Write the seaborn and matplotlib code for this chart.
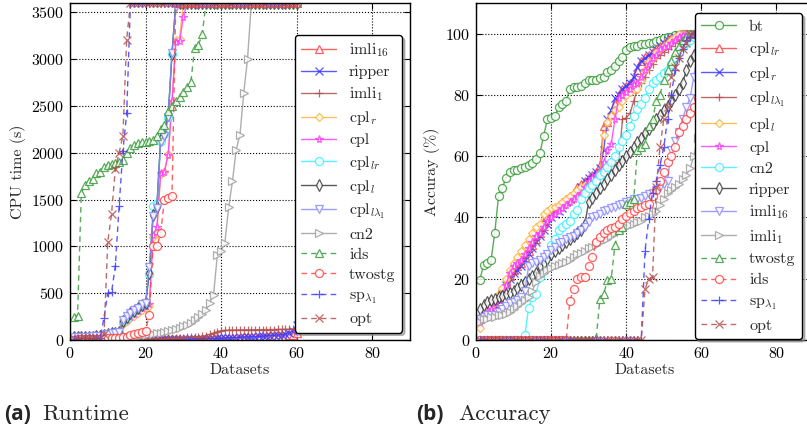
import numpy as np
import matplotlib.pyplot as plt
import seaborn as sns

TIMEOUT = 3600

# dataset index (cactus-style x axis)
datasets = np.arange(1, 61)

# ---- runtime (s), sorted per method ----
rt_imli16 = [1, 1, 1, 2, 2, 2, 2, 3, 3, 3,
             3, 4, 4, 4, 5, 5, 5, 6, 6, 6,
             7, 7, 8, 8, 9, 9, 10, 10, 11, 12,
             12, 13, 14, 15, 16, 17, 18, 19, 20, 21,
             22, 23, 24, 25, 26, 27, 28, 29, 30, 32,
             34, 36, 38, 40, 42, 44, 47, 50, 55, 70]
rt_ripper = [1, 1, 1, 1, 1, 2, 2, 2, 2, 2,
             2, 3, 3, 3, 3, 4, 4, 4, 5, 5,
             5, 6, 6, 6, 7, 7, 8, 8, 9, 9,
             10, 10, 11, 12, 13, 14, 15, 16, 17, 18,
             20, 22, 24, 26, 28, 30, 32, 34, 36, 38,
             41, 44, 47, 50, 54, 58, 64, 75, 100, 160]
rt_imli1 = [2, 2, 3, 3, 3, 4, 4, 4, 5, 5,
            5, 6, 6, 7, 7, 8, 8, 9, 10, 11,
            12, 13, 14, 15, 16, 18, 20, 22, 24, 26,
            28, 30, 33, 36, 40, 48, 60, 75, 90, 100,
            103, 105, 106, 107, 108, 108, 109, 109, 110, 110,
            111, 111, 112, 112, 113, 113, 114, 115, 118, 125]
rt_cpl_r = [25, 27, 28, 30, 31, 33, 35, 38, 45, 55,
            60, 65, 70, 170, 200, 230, 260, 290, 320, 350,
            360, 1100, 1140, 1770, 1800, 1990, 2520, 3200, 3220] + [TIMEOUT] * 31
rt_cpl = [24, 26, 28, 30, 32, 34, 36, 40, 48, 58,
          62, 68, 74, 180, 215, 250, 280, 310, 340, 365,
          380, 1120, 1210, 1785, 1800, 1980, 2550, 3180, 3190, 3450] + [TIMEOUT] * 30
rt_cpl_lr = [26, 28, 30, 32, 34, 36, 38, 42, 52, 64,
             70, 76, 84, 200, 240, 280, 310, 340, 370, 390,
             700, 1430, 1450, 2130, 2200, 2380, 3050] + [TIMEOUT] * 33
rt_cpl_l = [27, 29, 31, 33, 35, 37, 40, 44, 55, 66,
            72, 78, 86, 205, 250, 285, 315, 345, 375, 395,
            720, 1330, 1420, 2150, 2200, 2400, 3060] + [TIMEOUT] * 33
rt_cpl_llam = [28, 30, 32, 34, 36, 38, 41, 45, 58, 68,
               74, 80, 90, 214, 260, 290, 320, 345, 380, 400,
               780, 1320, 1410, 2120, 2175, 2380, 3070, 3560] + [TIMEOUT] * 32
rt_cn2 = [3, 3, 4, 4, 5, 5, 6, 6, 7, 7,
          8, 8, 9, 10, 11, 12, 30, 40, 50, 55,
          60, 65, 72, 80, 86, 95, 105, 115, 130, 145,
          160, 180, 210, 246, 280, 320, 400, 480, 910, 950,
          1040, 1420, 1695, 2035, 2195, 2640, 3005] + [TIMEOUT] * 13
rt_ids = [250, 260, 1570, 1660, 1700, 1720, 1780, 1800, 1850, 1870,
          1880, 1890, 1900, 1920, 2000, 2050, 2080, 2100, 2110, 2120,
          2130, 2140, 2180, 2250, 2300, 2450, 2500, 2550, 2600, 2650,
          2700, 2760, 3120, 3150, 3270] + [TIMEOUT] * 25
rt_twostg = [5, 6, 7, 8, 9, 10, 12, 14, 16, 18,
             20, 22, 25, 28, 32, 53, 60, 75, 86, 100,
             268, 1000, 1000, 1145, 1500, 1520, 1535] + [TIMEOUT] * 33
rt_sp = [15, 16, 17, 18, 19, 20, 22, 25, 240, 500,
         510, 790, 1430, 2020, 2420] + [TIMEOUT] * 45
rt_opt = [14, 15, 16, 17, 18, 19, 20, 22, 60, 1050,
          1350, 1830, 2000, 2180, 3210] + [TIMEOUT] * 45

# ---- accuracy (%), sorted per method ----
acc_bt = [19.5, 24.5, 25, 26, 35, 47, 49.5, 53, 55, 55.5,
          55.5, 56, 56.5, 57, 57.7, 59, 61, 66.5, 72, 72.5,
          73, 76, 77, 78, 82, 82.5, 82.5, 83, 84, 85,
          85, 85, 85.5, 86, 87.5, 88, 89.5, 91, 92.5, 94.6,
          95.5, 96, 96, 96.5, 96.5, 97, 97, 97.5, 98, 98.5,
          99, 99, 99.5, 99.5, 100, 100, 100, 100, 100, 100]
acc_cpl_lr = [7, 8, 9, 10, 12, 14, 16, 19, 21, 23,
              24, 25, 27, 29, 31, 33, 35, 39, 40, 42,
              43, 44, 45, 46, 47, 48, 50, 51, 52, 53,
              54, 55, 57, 70, 71, 74, 77, 80, 82, 83,
              84, 85, 88, 91, 92.5, 93, 94, 95, 96, 97,
              98, 98.5, 99, 99.5, 100, 100, 100, 100, 100, 100]
acc_cpl_r = [7, 8, 9, 10, 11, 13, 15, 18, 20, 22,
             23, 24, 26, 28, 30, 32, 34, 36, 38, 40,
             41, 42, 43, 45, 46, 47, 48, 50, 52, 53,
             54, 55, 56, 62, 72, 75, 79, 80, 82, 83,
             84, 86, 89, 91, 92, 93, 94, 95, 96, 97,
             98, 98.5, 99, 99.5, 100, 100, 100, 100, 100, 100]
acc_cpl_llam = [8, 9, 10, 11, 12, 14, 16, 18, 20, 22,
                24, 25, 27, 29, 31, 33, 35, 36, 38, 40,
                42, 43, 44, 44, 45, 46, 47, 48, 50, 51,
                52, 53, 54, 55, 56, 57, 57.5, 58, 72, 72.5,
                74, 78, 82, 84, 86, 88, 90, 92, 93, 94,
                95, 96, 97, 98, 99, 99.5, 100, 100, 100, 100]
acc_cpl_l = [4, 8, 10, 11, 13, 15, 17, 20, 23, 25,
             27, 29, 31, 33, 35, 37, 38, 41, 42, 43,
             43.5, 44, 45, 46, 47, 48, 49, 50, 50.5, 50.6,
             51, 52, 55, 67, 71, 73, 75, 76, 78, 80,
             81, 82, 82, 85, 88, 91, 92, 94, 95, 96,
             97, 98, 99, 100, 100, 100, 100, 100, 100, 100]
acc_cpl = [6, 8, 9, 10, 12, 13, 15, 18, 22, 24,
           25, 26, 28, 30, 32, 34, 35, 37, 39, 40,
           41, 42, 43, 44, 45, 46, 47, 48, 50, 52,
           53, 54, 55, 58, 62, 64, 72, 79, 80, 81,
           82, 83.5, 84, 86, 88, 90, 92, 93, 95, 95.6,
           96, 97, 98, 99, 99.5, 100, 100, 100, 100, 100]
acc_cn2 = [0] * 12 + [1.5, 10.4, 14, 15, 20.6, 25, 28, 31, 33, 36,
                      37, 38, 39, 41, 42.4, 46, 48, 49.5, 50.6, 52,
                      54, 55, 56.5, 58, 60, 63, 65, 67, 70, 73,
                      75.5, 77, 79, 82, 84, 85, 86, 87, 88, 90,
                      92, 94, 96, 97, 98, 99, 100, 100]
acc_ripper = [10, 11.5, 12.5, 13, 13.5, 14, 14.5, 15, 15.5, 16,
              17, 18, 19, 20, 21, 22, 24, 25, 26.5, 28,
              29, 30, 31, 32, 33, 34, 35, 36, 38, 45,
              46.5, 48, 49.5, 51, 52.5, 54, 55.5, 57, 58.5, 60,
              61.5, 63, 64.5, 66, 67.5, 69, 70.5, 72, 73.5, 75,
              76.5, 78, 80, 82, 84, 88, 91, 93, 96, 99]
acc_imli16 = [7, 7.5, 8, 8, 8, 9, 10, 11, 12, 12.5,
              13, 14, 16, 24, 25, 25.5, 26, 27, 28, 29.5,
              30.5, 31.5, 32, 33, 33.5, 34, 35, 36, 37, 38.5,
              40, 40.5, 41, 42, 42.5, 43, 43.5, 44, 44.5, 45,
              45.5, 46, 46, 46.5, 47, 47.5, 48, 49, 50, 51,
              52, 62, 65, 68, 72, 76, 79, 86, 93, 94]
acc_imli1 = [6, 7, 7, 7.5, 7.5, 8, 8, 8.5, 9, 10,
             11, 12, 13, 14, 16, 19, 21, 22, 23, 23.5,
             24, 24.5, 25, 25.5, 26, 27, 28, 28.5, 29, 30,
             30.5, 31, 32, 32.5, 33, 34, 35, 35.5, 36, 37,
             37.5, 38, 38.5, 39, 40, 40.5, 41, 42, 44, 46,
             48, 49, 50, 51, 52.5, 54, 56, 60, 66, 93]
acc_twostg = [0] * 31 + [0.5, 13.5, 15, 19.5, 20, 31, 36, 37, 44.5, 45,
                         46, 62, 63, 64, 70, 72, 78, 80, 85, 88,
                         91, 94, 96, 98, 99, 100, 100, 100, 100]
acc_ids = [0] * 24 + [12.8, 16.7, 20, 20.5, 20.5, 24, 27, 32, 33.5, 35,
                      36, 36.5, 37, 38, 39.5, 40.5, 41.5, 42, 43, 43.5,
                      44, 44.5, 47, 49, 52, 55, 58, 60, 63, 68,
                      70, 72, 74, 76, 79, 85]
acc_sp = [0] * 44 + [29, 39.5, 48, 52, 57, 63, 72, 80, 88, 92,
                     95, 98, 99, 100, 100, 100]
acc_opt = [0] * 44 + [16.5, 20, 20.5, 50, 63, 72, 76, 86, 89, 92,
                      95, 97, 100, 100, 100, 100]

rt_labels = ['imli$_{16}$', 'ripper', 'imli$_1$', 'cpl$_r$', 'cpl', 'cpl$_{lr}$',
             'cpl$_l$', 'cpl$_{l\\lambda_1}$', 'cn2', 'ids', 'twostg',
             'sp$_{\\lambda_1}$', 'opt']
rt_series = [rt_imli16, rt_ripper, rt_imli1, rt_cpl_r, rt_cpl, rt_cpl_lr,
             rt_cpl_l, rt_cpl_llam, rt_cn2, rt_ids, rt_twostg, rt_sp, rt_opt]

acc_labels = ['bt', 'cpl$_{lr}$', 'cpl$_r$', 'cpl$_{l\\lambda_1}$', 'cpl$_l$', 'cpl',
              'cn2', 'ripper', 'imli$_{16}$', 'imli$_1$', 'twostg', 'ids',
              'sp$_{\\lambda_1}$', 'opt']
acc_series = [acc_bt, acc_cpl_lr, acc_cpl_r, acc_cpl_llam, acc_cpl_l, acc_cpl,
              acc_cn2, acc_ripper, acc_imli16, acc_imli1, acc_twostg, acc_ids,
              acc_sp, acc_opt]

# (color, marker, dashed) -- same visual cycle in both panels
styles = [('#3c9c3c', 'o', False),
          ('#ff4646', '^', False),
          ('#3c3cff', 'x', False),
          ('#b45050', '+', False),
          ('#ffb43c', 'D', False),
          ('#ff3cff', '*', False),
          ('#3cf0ff', 'o', False),
          ('#3c3c3c', 'd', False),
          ('#8c8cff', 'v', False),
          ('#a0a0a0', '>', False),
          ('#3c9c3c', '^', True),
          ('#ff4646', 'o', True),
          ('#3c3cff', '+', True),
          ('#b45050', 'x', True)]

sns.set_theme(style='ticks')
plt.rcParams['font.family'] = ['cmr10', 'DejaVu Serif']
plt.rcParams['mathtext.fontset'] = 'cm'
plt.rcParams['axes.formatter.use_mathtext'] = True
plt.rcParams['axes.unicode_minus'] = False

FS = 11.5


def draw(ax, values, label, style):
    color, marker, dashed = style
    size = 4.5 if marker == 'D' else 5.8
    sns.lineplot(x=datasets, y=values, ax=ax, color=color, marker=marker,
                 linestyle=(0, (4, 3)) if dashed else '-', linewidth=1.0,
                 markersize=size, markerfacecolor='white', markeredgecolor=color,
                 markeredgewidth=0.9, alpha=0.85, label=label, errorbar=None)


def style_axes(ax, ylim, yticks, ylabel):
    ax.set_xlim(0, 90)
    ax.set_ylim(*ylim)
    ax.set_xticks([0, 20, 40, 60, 80])
    ax.set_yticks(yticks)
    ax.grid(True, linestyle=':', color='black', linewidth=0.8)
    ax.set_axisbelow(True)
    ax.tick_params(direction='in', top=True, right=True, length=4, width=0.8,
                   colors='black', labelsize=FS, pad=4)
    for s in ax.spines.values():
        s.set_color('black')
        s.set_linewidth(1.0)
    ax.set_xlabel('Datasets', fontsize=FS, labelpad=2)
    ax.set_ylabel(ylabel, fontsize=FS, labelpad=4)


def add_legend(ax, anchor, spacing):
    leg = ax.legend(loc='upper right', bbox_to_anchor=anchor, fontsize=FS,
                    frameon=True, fancybox=True, framealpha=1, edgecolor='black',
                    shadow={'color': '0.55', 'alpha': 0.6},
                    handlelength=2.2, handletextpad=0.8, labelspacing=spacing,
                    borderpad=0.4, borderaxespad=0)
    leg.get_frame().set_linewidth(1.0)


fig = plt.figure(figsize=(8.07, 4.34), dpi=100)
ax1 = fig.add_axes([70 / 807, 94 / 434, 340 / 807, 337 / 434])
ax2 = fig.add_axes([476 / 807, 94 / 434, 338 / 807, 337 / 434])

for vals, lab, st in zip(rt_series, rt_labels, styles[1:]):
    draw(ax1, vals, lab, st)
style_axes(ax1, (0, 3600), [0, 500, 1000, 1500, 2000, 2500, 3000, 3500], 'CPU time (s)')
add_legend(ax1, ((402 - 70) / 340, (340 - 35) / 337), 0.38)

for vals, lab, st in zip(acc_series, acc_labels, styles):
    draw(ax2, vals, lab, st)
style_axes(ax2, (0, 110), [0, 20, 40, 60, 80, 100], 'Accuray (%)')
add_legend(ax2, ((802 - 476) / 338, (340 - 13) / 337), 0.42)

# sub-captions
cap_y = 14 / 434
fig.text(4 / 807, cap_y, '(a)', fontsize=15, fontweight='bold',
         family=['Open Sans', 'DejaVu Sans'], va='baseline')
fig.text(42 / 807, cap_y, 'Runtime', fontsize=16.5, va='baseline')
fig.text(416 / 807, cap_y, '(b)', fontsize=15, fontweight='bold',
         family=['Open Sans', 'DejaVu Sans'], va='baseline')
fig.text(458 / 807, cap_y, 'Accuracy', fontsize=16.5, va='baseline')

fig.savefig('out.png', dpi=100)
